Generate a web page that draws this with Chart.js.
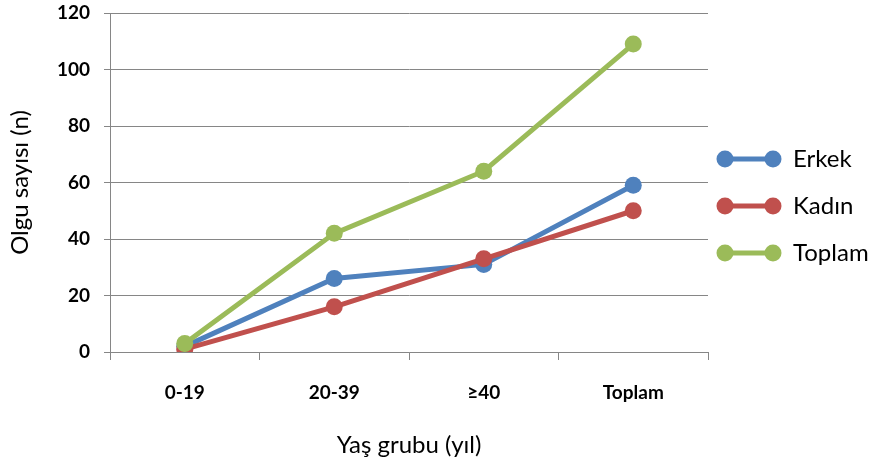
<!DOCTYPE html>
<html lang="tr">
<head>
    <meta charset="UTF-8">
    <meta name="viewport" content="width=device-width, initial-scale=1.0">
    <script src="https://cdn.jsdelivr.net/npm/chart.js"></script>
    <title>Olgu sayısı</title>
    <style>
      body { margin: 0; background: #fff; }
    </style>
</head>
<body>
    <canvas id="myLineChart" width="873" height="468"></canvas>

<script>
  // dados
  const categorias = ["0-19", "20-39", "\u226540", "Toplam"];
  const erkek = [2, 26, 31, 59];
  const kadin = [1, 16, 33, 50];
  const toplam = [3, 42, 64, 109];
  const ticksY = [0, 20, 40, 60, 80, 100, 120];

  const fonte = "Lato, 'DejaVu Sans', sans-serif";
  const cinza = "#868686";

  // legenda desenhada a mao: linha com dois pontos, igual ao excel
  const legendaPlugin = {
    id: "legendaLinha",
    afterDraw(chart, args, opts) {
      const ctx = chart.ctx;
      ctx.save();
      chart.data.datasets.forEach(function (ds, i) {
        const y = opts.top + i * opts.gap;
        ctx.strokeStyle = ds.borderColor;
        ctx.lineWidth = ds.borderWidth;
        ctx.beginPath();
        ctx.moveTo(opts.left + 10, y);
        ctx.lineTo(opts.left + 58, y);
        ctx.stroke();
        ctx.fillStyle = ds.pointBackgroundColor;
        [opts.left + 10, opts.left + 58].forEach(function (x) {
          ctx.beginPath();
          ctx.arc(x, y, ds.pointRadius, 0, Math.PI * 2);
          ctx.fill();
        });
        ctx.fillStyle = "#000";
        ctx.font = "24px " + fonte;
        ctx.textBaseline = "middle";
        ctx.fillText(ds.label, opts.left + 78, y);
      });
      ctx.restore();
    }
  };

  function serie(nome, dados, cor, ordem) {
    return {
      label: nome,
      data: dados,
      borderColor: cor,
      backgroundColor: cor,
      pointBackgroundColor: cor,
      pointBorderColor: cor,
      borderWidth: 5,
      pointRadius: 8.5,
      pointBorderWidth: 0,
      tension: 0,
      order: ordem
    };
  }

  const dados = {
    labels: categorias,
    datasets: [
      serie("Erkek", erkek, "#4F81BD", 3),
      serie("Kad\u0131n", kadin, "#C0504D", 2),
      serie("Toplam", toplam, "#9BBB59", 1)
    ]
  };

  const config = {
    type: "line",
    data: dados,
    plugins: [legendaPlugin],
    options: {
      responsive: false,
      animation: false,
      layout: { padding: { top: 13, right: 165, bottom: 0, left: 0 } },
      plugins: {
        legend: { display: false },
        tooltip: { enabled: false },
        legendaLinha: { left: 715, top: 159, gap: 47 }
      },
      scales: {
        x: {
          offset: true,
          grid: { offset: true, drawOnChartArea: false, color: cinza, tickLength: 8 },
          border: { color: cinza },
          ticks: { color: "#000", padding: 21, font: { family: fonte, size: 19, weight: "bold" } },
          title: {
            display: true,
            text: "Ya\u015f grubu (y\u0131l)",
            color: "#000",
            font: { family: fonte, size: 24 },
            padding: { top: 0, bottom: 8 }
          },
          afterFit(scale) { scale.height = 116; }
        },
        y: {
          min: 0,
          max: 120,
          afterBuildTicks(scale) {
            scale.ticks = ticksY.map(function (v) { return { value: v }; });
          },
          grid: { color: cinza, tickLength: 6 },
          border: { color: cinza },
          ticks: { color: "#000", padding: 14, font: { family: fonte, size: 19, weight: "bold" } },
          title: {
            display: true,
            text: "Olgu say\u0131s\u0131 (n)",
            color: "#000",
            font: { family: fonte, size: 24 },
            padding: { top: 6, bottom: 0 }
          },
          afterFit(scale) {
            // largura fixa e sem folga extra em cima/embaixo
            scale.width = 110;
            scale.paddingTop = 0;
            scale.paddingBottom = 0;
          }
        }
      }
    }
  };

  let myLineChart = new Chart(document.getElementById("myLineChart"), config);
  console.log(myLineChart.chartArea);
</script>
</body>
</html>
